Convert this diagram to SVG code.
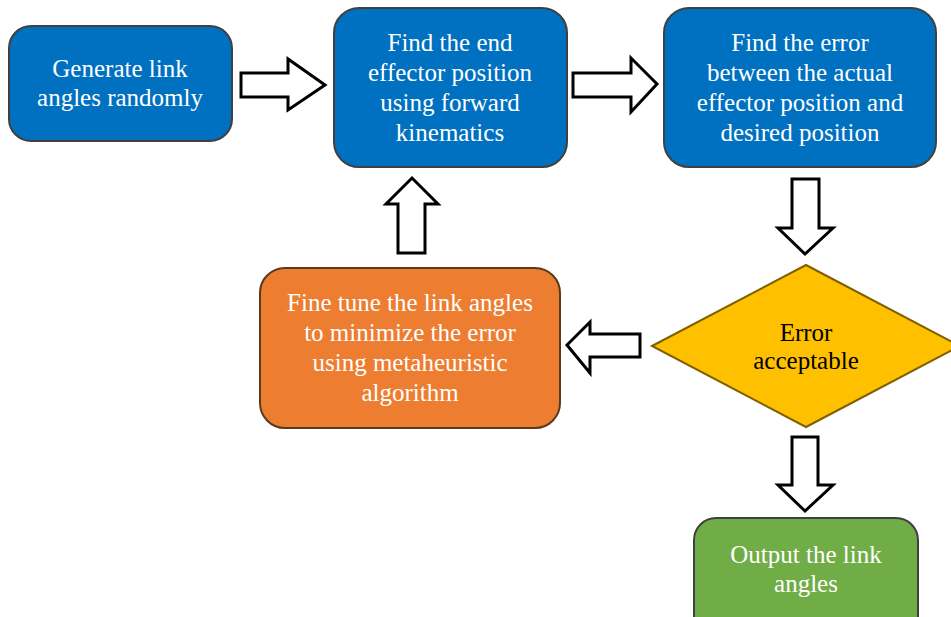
<svg xmlns="http://www.w3.org/2000/svg" width="951" height="617" viewBox="0 0 951 617">
<style>
.box{stroke:#404040;stroke-width:2}
.t{font-family:"Liberation Serif","DejaVu Serif",serif;font-size:25px;text-anchor:middle;fill:#ffffff}
.dt{fill:#000000}
.arr{fill:#ffffff;stroke:#000000;stroke-width:3;stroke-linejoin:miter}
</style>
<rect width="951" height="617" fill="#ffffff"/>
<g id="connectors">
<path class="arr" d="M241,73 L288,73 L288,59 L325,85 L288,110 L288,97 L241,97 Z"/>
<path class="arr" d="M573,73 L631,73 L631,58 L657,84 L631,112 L631,97 L573,97 Z"/>
<path class="arr" d="M792,179 L819,179 L819,228 L833,228 L805,254 L778,228 L792,228 Z"/>
<path class="arr" d="M792,437 L818,437 L818,485 L833,485 L805,511 L778,485 L792,485 Z"/>
<path class="arr" d="M640,334 L640,357 L590,357 L590,373 L567,345 L590,322 L590,334 Z"/>
<path class="arr" d="M398,253 L425,253 L425,204 L438,204 L412,178 L386,204 L398,204 Z"/>
</g>
<g id="n1">
<rect class="box" x="9" y="26" width="223" height="115" rx="22" fill="#0070C0"/>
<text class="t" x="120" y="77">Generate link</text>
<text class="t" x="120" y="106">angles randomly</text>
</g>
<g id="n2">
<rect class="box" x="334" y="8" width="233" height="159" rx="25" fill="#0070C0"/>
<text class="t" x="450" y="51">Find the end</text>
<text class="t" x="450" y="81">effector position</text>
<text class="t" x="450" y="111">using forward</text>
<text class="t" x="450" y="141">kinematics</text>
</g>
<g id="n3">
<rect class="box" x="664" y="8" width="272" height="159" rx="25" fill="#0070C0"/>
<text class="t" x="800" y="51">Find the error</text>
<text class="t" x="800" y="81">between the actual</text>
<text class="t" x="800" y="111">effector position and</text>
<text class="t" x="800" y="141">desired position</text>
</g>
<g id="n4">
<polygon points="652,346 806,265 960,346 806,427" fill="#FFC000" stroke="#7F6000" stroke-width="2"/>
<text class="t dt" x="806" y="341">Error</text>
<text class="t dt" x="806" y="369">acceptable</text>
</g>
<g id="n5">
<rect x="260" y="268" width="300" height="160" rx="25" fill="#ED7D31" stroke="#5A3A1A" stroke-width="2"/>
<text class="t" x="410" y="311">Fine tune the link angles</text>
<text class="t" x="410" y="341">to minimize the error</text>
<text class="t" x="410" y="371">using metaheuristic</text>
<text class="t" x="410" y="401">algorithm</text>
</g>
<g id="n6">
<rect class="box" x="694" y="518" width="224" height="130" rx="22" fill="#70AD47"/>
<text class="t" x="806" y="563">Output the link</text>
<text class="t" x="806" y="592">angles</text>
</g>
</svg>
